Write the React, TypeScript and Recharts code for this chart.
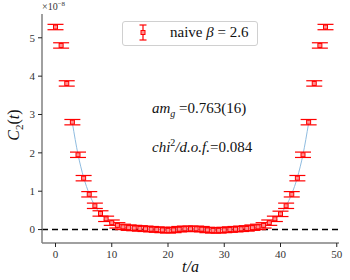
import React from 'react';
import {
  ComposedChart,
  ErrorBar,
  Line,
  ReferenceLine,
  Scatter,
  XAxis,
  YAxis,
} from 'recharts';

// correlator data, units of 1e-8
const times = [
  0, 1, 2, 3, 4, 5, 6, 7, 8, 9, 10, 11, 12, 13, 14, 15, 16, 17, 18, 19, 20, 21, 22, 23, 24,
  25, 26, 27, 28, 29, 30, 31, 32, 33, 34, 35, 36, 37, 38, 39, 40, 41, 42, 43, 44, 45, 46, 47, 48,
];
const c2Values = [
  5.28, 4.8, 3.81, 2.8, 1.95, 1.34, 0.92, 0.62, 0.42, 0.28, 0.18, 0.11, 0.07, 0.05, 0.04, 0.03,
  0.02, 0.01, 0.0, -0.01, -0.02, -0.01, 0.01, 0.02, 0.02, 0.02, 0.01, -0.01, -0.02, -0.02, -0.01,
  0.0, 0.01, 0.02, 0.03, 0.05, 0.07, 0.11, 0.18, 0.28, 0.41, 0.62, 0.92, 1.34, 1.95, 2.8, 3.81,
  4.8, 5.28,
];
const c2Errors = [
  0.07, 0.07, 0.07, 0.07, 0.07, 0.07, 0.07, 0.07, 0.07, 0.07, 0.07, 0.07, 0.07, 0.07, 0.07, 0.07,
  0.07, 0.07, 0.07, 0.07, 0.07, 0.07, 0.07, 0.07, 0.07, 0.07, 0.07, 0.07, 0.07, 0.07, 0.07, 0.07,
  0.07, 0.07, 0.07, 0.07, 0.07, 0.07, 0.07, 0.07, 0.07, 0.07, 0.07, 0.07, 0.07, 0.07, 0.07, 0.07,
  0.07,
];
// fit curve, drawn over t = 3 .. 45
const fitValues = [
  null, null, null, 2.78, 1.96, 1.36, 0.93, 0.62, 0.41, 0.27, 0.17, 0.11, 0.07, 0.045, 0.03, 0.02,
  0.013, 0.009, 0.006, 0.004, 0.003, 0.002, 0.002, 0.002, 0.002, 0.002, 0.002, 0.002, 0.003,
  0.004, 0.006, 0.009, 0.013, 0.02, 0.03, 0.045, 0.07, 0.11, 0.17, 0.27, 0.41, 0.62, 0.93, 1.36,
  1.96, 2.78, null, null, null,
];
const xTicks = [0, 10, 20, 30, 40, 50];
const yTicks = [0, 1, 2, 3, 4, 5];

const rows = times.map((t, i) => ({
  t,
  c2: c2Values[i],
  err: c2Errors[i],
  fit: fitValues[i],
}));

const serif = '"Liberation Serif", "Times New Roman"';
const spine = { stroke: '#808080', strokeWidth: 1.5 };
const tickStyle = { fontSize: 11, fill: '#333', fontFamily: serif };

const SquareDot = (props: any) => {
  const { cx, cy } = props;
  if (cx == null || cy == null) return null;
  return (
    <rect x={cx - 2} y={cy - 2} width={4} height={4} fill="#ff9090" stroke="#ff0000" strokeWidth={1} />
  );
};

const txt = (extra: React.CSSProperties): React.CSSProperties => ({
  position: 'absolute',
  fontFamily: serif,
  whiteSpace: 'nowrap',
  color: '#111',
  ...extra,
});

const App = () => (
  <div style={{ position: 'absolute', left: 0, top: 0, width: 350, height: 280, fontFamily: serif }}>
    <ComposedChart
      width={350}
      height={280}
      data={rows}
      margin={{ top: 14, right: 11, left: 0, bottom: 0 }}
      style={{ fontFamily: serif }}
    >
      <XAxis
        dataKey="t"
        type="number"
        domain={[-2.4, 50.4]}
        ticks={xTicks}
        allowDataOverflow
        height={37}
        axisLine={spine}
        tickLine={{ stroke: '#222' }}
        tickSize={4}
        tickMargin={3}
        tick={tickStyle}
      />
      <YAxis
        type="number"
        domain={[-0.35, 5.62]}
        ticks={yTicks}
        allowDataOverflow
        width={42}
        axisLine={spine}
        tickLine={{ stroke: '#222' }}
        tickSize={4}
        tickMargin={3}
        tick={tickStyle}
      />
      <XAxis xAxisId="top" orientation="top" type="number" domain={[-2.4, 50.4]} height={0} tick={false} tickLine={false} axisLine={spine} />
      <YAxis yAxisId="right" orientation="right" type="number" domain={[-0.35, 5.62]} width={0} tick={false} tickLine={false} axisLine={spine} />
      <ReferenceLine y={0} stroke="#000" strokeWidth={1.5} strokeDasharray="6 4" />
      <Line
        type="monotone"
        dataKey="fit"
        stroke="#8fbce0"
        strokeWidth={1}
        dot={false}
        connectNulls={false}
        isAnimationActive={false}
      />
      <Scatter dataKey="c2" fill="#ff0000" shape={<SquareDot />} isAnimationActive={false}>
        <ErrorBar dataKey="err" direction="y" width={8} stroke="#ff0000" strokeWidth={1.2} />
      </Scatter>
    </ComposedChart>

    {/* exponent label */}
    <div style={txt({ left: 42, top: 0, fontSize: 10, color: '#333' })}>
      ×10<sup style={{ fontSize: 7 }}>−8</sup>
    </div>

    {/* y label */}
    <div
      style={txt({
        left: 15,
        top: 125,
        transform: 'translate(-50%, -50%) rotate(-90deg)',
        fontSize: 16,
      })}
    >
      <i>C</i>
      <sub style={{ fontSize: 11 }}>2</sub>(<i>t</i>)
    </div>

    {/* x label */}
    <div style={txt({ left: 182, top: 258, fontSize: 16, fontStyle: 'italic' })}>t/a</div>

    {/* legend */}
    <div
      style={{
        position: 'absolute',
        left: 122,
        top: 21,
        width: 134,
        height: 23,
        border: '1px solid #d0d0d0',
        borderRadius: 3,
        background: 'rgba(255,255,255,0.8)',
      }}
    >
      <svg width={20} height={23} style={{ position: 'absolute', left: 11, top: 0 }}>
        <line x1={9} y1={3} x2={9} y2={18} stroke="#ff0000" strokeWidth={1.2} />
        <line x1={5.5} y1={3} x2={12.5} y2={3} stroke="#ff0000" strokeWidth={1.2} />
        <line x1={5.5} y1={18} x2={12.5} y2={18} stroke="#ff0000" strokeWidth={1.2} />
        <rect x={7} y={8.5} width={4} height={4} fill="#ff9090" stroke="#ff0000" />
      </svg>
      <div style={txt({ left: 47, top: 2, fontSize: 15 })}>
        naive <i>β</i> = 2.6
      </div>
    </div>

    {/* fit annotations */}
    <div style={txt({ left: 152, top: 100, fontSize: 15 })}>
      <i>am</i>
      <sub style={{ fontSize: 10 }}>
        <i>g</i>
      </sub>{' '}
      =0.763(16)
    </div>
    <div style={txt({ left: 152, top: 137, fontSize: 15 })}>
      <i>chi</i>
      <sup style={{ fontSize: 10 }}>2</sup>
      <i>/d.o.f.</i>=0.084
    </div>
  </div>
);

export default App;
